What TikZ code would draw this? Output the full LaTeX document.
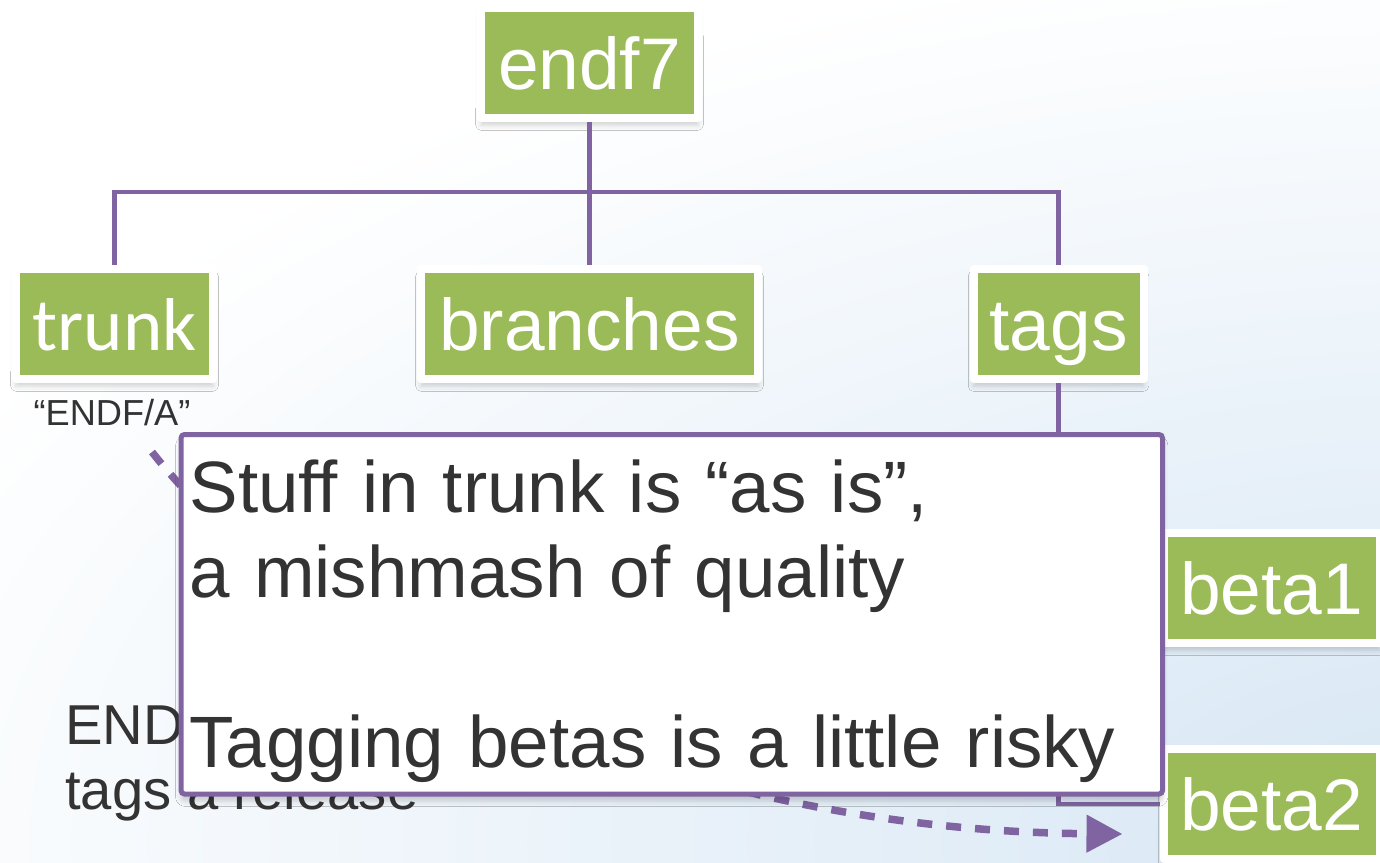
\documentclass[tikz,border=0pt]{standalone}
\usepackage{fontspec}
\setmainfont{Liberation Sans}
\newfontfamily\trunkfont{Carlito}
\usetikzlibrary{positioning, shadows.blur, arrows.meta}
\definecolor{leafgreen}{HTML}{9BBB59}
\definecolor{treepurple}{HTML}{8064A2}
\definecolor{inkgray}{HTML}{333333}
\definecolor{skyblue}{HTML}{D6E6F4}

\begin{document}
\begin{tikzpicture}[node distance=2cm, on grid,
    leaf/.style={fill=leafgreen, draw=white, line width=0.08cm, line join=round,
      text=white, font=\fontsize{20.8}{24}\selectfont, inner sep=0pt,
      minimum height=1.10cm, text height=0.62cm, text depth=0.09cm,
      blur shadow={shadow xshift=0pt, shadow yshift=-2pt, shadow blur radius=1.5pt,
        shadow opacity=18}},
    tree/.style={draw=treepurple, line width=0.045cm},
    hintarrow/.style={draw=treepurple, line width=0.075cm, dash pattern=on 0.15cm off 0.14cm,
      -{Triangle[length=0.36cm, width=0.36cm]}},
    note/.style={draw=treepurple, fill=white, line width=0.05cm, rounded corners=1pt,
      text=inkgray, font=\fontsize{20.7}{24.2}\selectfont, align=left,
      text width=9.645cm, inner xsep=0.085cm, inner ysep=0cm, minimum height=3.595cm,
      blur shadow={shadow xshift=0pt, shadow yshift=-2pt, shadow blur radius=1.5pt,
        shadow opacity=18}},
    remark/.style={text=inkgray, inner sep=0pt}]

  \useasboundingbox (0,0) rectangle (13.8,8.62);

  % faint backdrop
  \begin{scope}
    \clip (0,0) rectangle (13.8,8.62);
    \shade[inner color=skyblue, outer color=white] (14.6,0.2) ellipse (17cm and 9cm);
  \end{scope}

  % repository layout
  \node[leaf, minimum width=2.17cm] (endf7) at (5.895,7.99) {endf7};
  \node[leaf, minimum width=3.37cm] (branches) [below=2.61cm of endf7] {branches};
  \node[leaf, minimum width=1.97cm, font=\trunkfont\fontsize{21.3}{24}\selectfont]
    (trunk) [left=4.75cm of branches] {trunk};
  \node[leaf, minimum width=1.70cm] (tags) [right=4.69cm of branches] {tags};
  \node[leaf, minimum width=2.16cm] (beta1) [below right=2.64cm and 2.13cm of tags] {beta1};
  \node[leaf, minimum width=2.16cm] (beta2) [below=2.16cm of beta1] {beta2};

  \coordinate[below=1.29cm of endf7] (bus);
  \draw[tree] (endf7) -- (bus) -- (branches);
  \draw[tree] (bus) -| (trunk);
  \draw[tree] (bus) -| (tags);
  \draw[tree] (tags) |- (beta1);
  \draw[tree] (tags) |- (beta2);

  % labels
  \node[remark, font=\fontsize{10.3}{12}\selectfont, anchor=base] (endfa) at (1.12,4.37) {“ENDF/A”};
  \node[remark, font=\fontsize{16}{18.5}\selectfont, align=left, anchor=north west]
    (release) at (0.645,1.57) {END\\tags a release};

  \coordinate (hint) at (1.52,4.10);
  \draw[hintarrow] (hint) .. controls (3.0,2.22) and (6.5,0.32) .. ([xshift=-0.37cm, yshift=-0.30cm]beta2.west);

  % callout
  \node[note, anchor=north west] (caveat) at (1.785,4.30)
    {\rule{0pt}{0.775cm}Stuff in trunk is “as is”,\\a mishmash of quality\\[24.2pt]%
     Tagging betas is a little risky\rule[-0.265cm]{0pt}{0pt}};
\end{tikzpicture}
\end{document}
